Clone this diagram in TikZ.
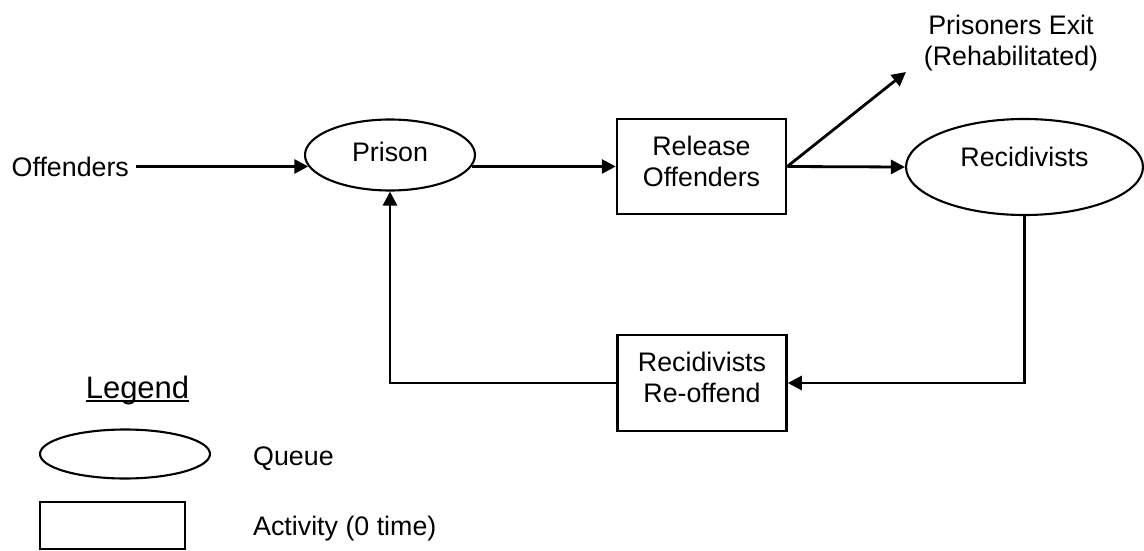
\documentclass[tikz,border=0pt]{standalone}
\usepackage{fontspec}
\setmainfont{Liberation Sans}
\usetikzlibrary{shapes.geometric,arrows.meta}
\begin{document}
\begin{tikzpicture}[x=1pt,y=-1pt,
  every node/.style={font=\fontsize{26.8}{31}\selectfont},
  queue/.style={draw, ellipse, line width=2.1pt, inner sep=0pt},
  activity/.style={draw, rectangle, line width=2.5pt, inner sep=0pt, align=center},
  plain/.style={inner sep=0pt},
  arr/.style={line width=2.8pt, -{Triangle[length=14pt,width=14pt]}}]
\useasboundingbox (0,0) rectangle (1144,551);

% main nodes
\node[queue, minimum width=170pt, minimum height=71pt, text depth=7pt] (prison) at (390,155) {Prison};
\node[activity, minimum width=169pt, minimum height=95pt, text depth=11pt] (release) at (701.5,166.5) {Release\\Offenders};
\node[queue, minimum width=237pt, minimum height=96pt, text depth=20pt] (recid) at (1024.5,167) {Recidivists};
\node[activity, minimum width=169pt, minimum height=96pt, text depth=12pt] (reoff) at (702,383) {Recidivists\\Re-offend};
\node[plain, anchor=base west] (off) at (11.5,176.5) {Offenders};
\node[plain, anchor=north, align=center] (exit) at (1011,15) {Prisoners Exit\\(Rehabilitated)};
\coordinate (exitpt) at (906,72);
\coordinate (offend) at ([xshift=7pt]off.east);

% connectors
\draw[arr] (offend |- prison.188.5) -- (prison.188.5);
\draw[arr] (prison.-8.5) -- (release.west |- prison.-8.5);
\draw[arr] (release.east) -- (recid.west);
\draw[arr] (release.east) -- (exitpt);
\draw[arr] (recid.south) |- (reoff.east);
\draw[arr] (reoff.west) -| (prison.south);

% legend
\node[plain, font=\fontsize{31}{36}\selectfont, anchor=base] (legend) at (137.5,398.5) {Legend};
\draw[line width=2pt] ([yshift=-2.5pt]legend.base west) -- ([yshift=-2.5pt]legend.base east);
\node[queue, minimum width=170pt, minimum height=49pt] (qsym) at (125,454) {};
\node[plain, anchor=base west] (qtext) at (253,465) {Queue};
\node[activity, minimum width=145pt, minimum height=47pt] (asym) at (112.5,525.5) {};
\node[plain, anchor=base west] (atext) at (253,535.5) {Activity (0 time)};
\end{tikzpicture}
\end{document}
